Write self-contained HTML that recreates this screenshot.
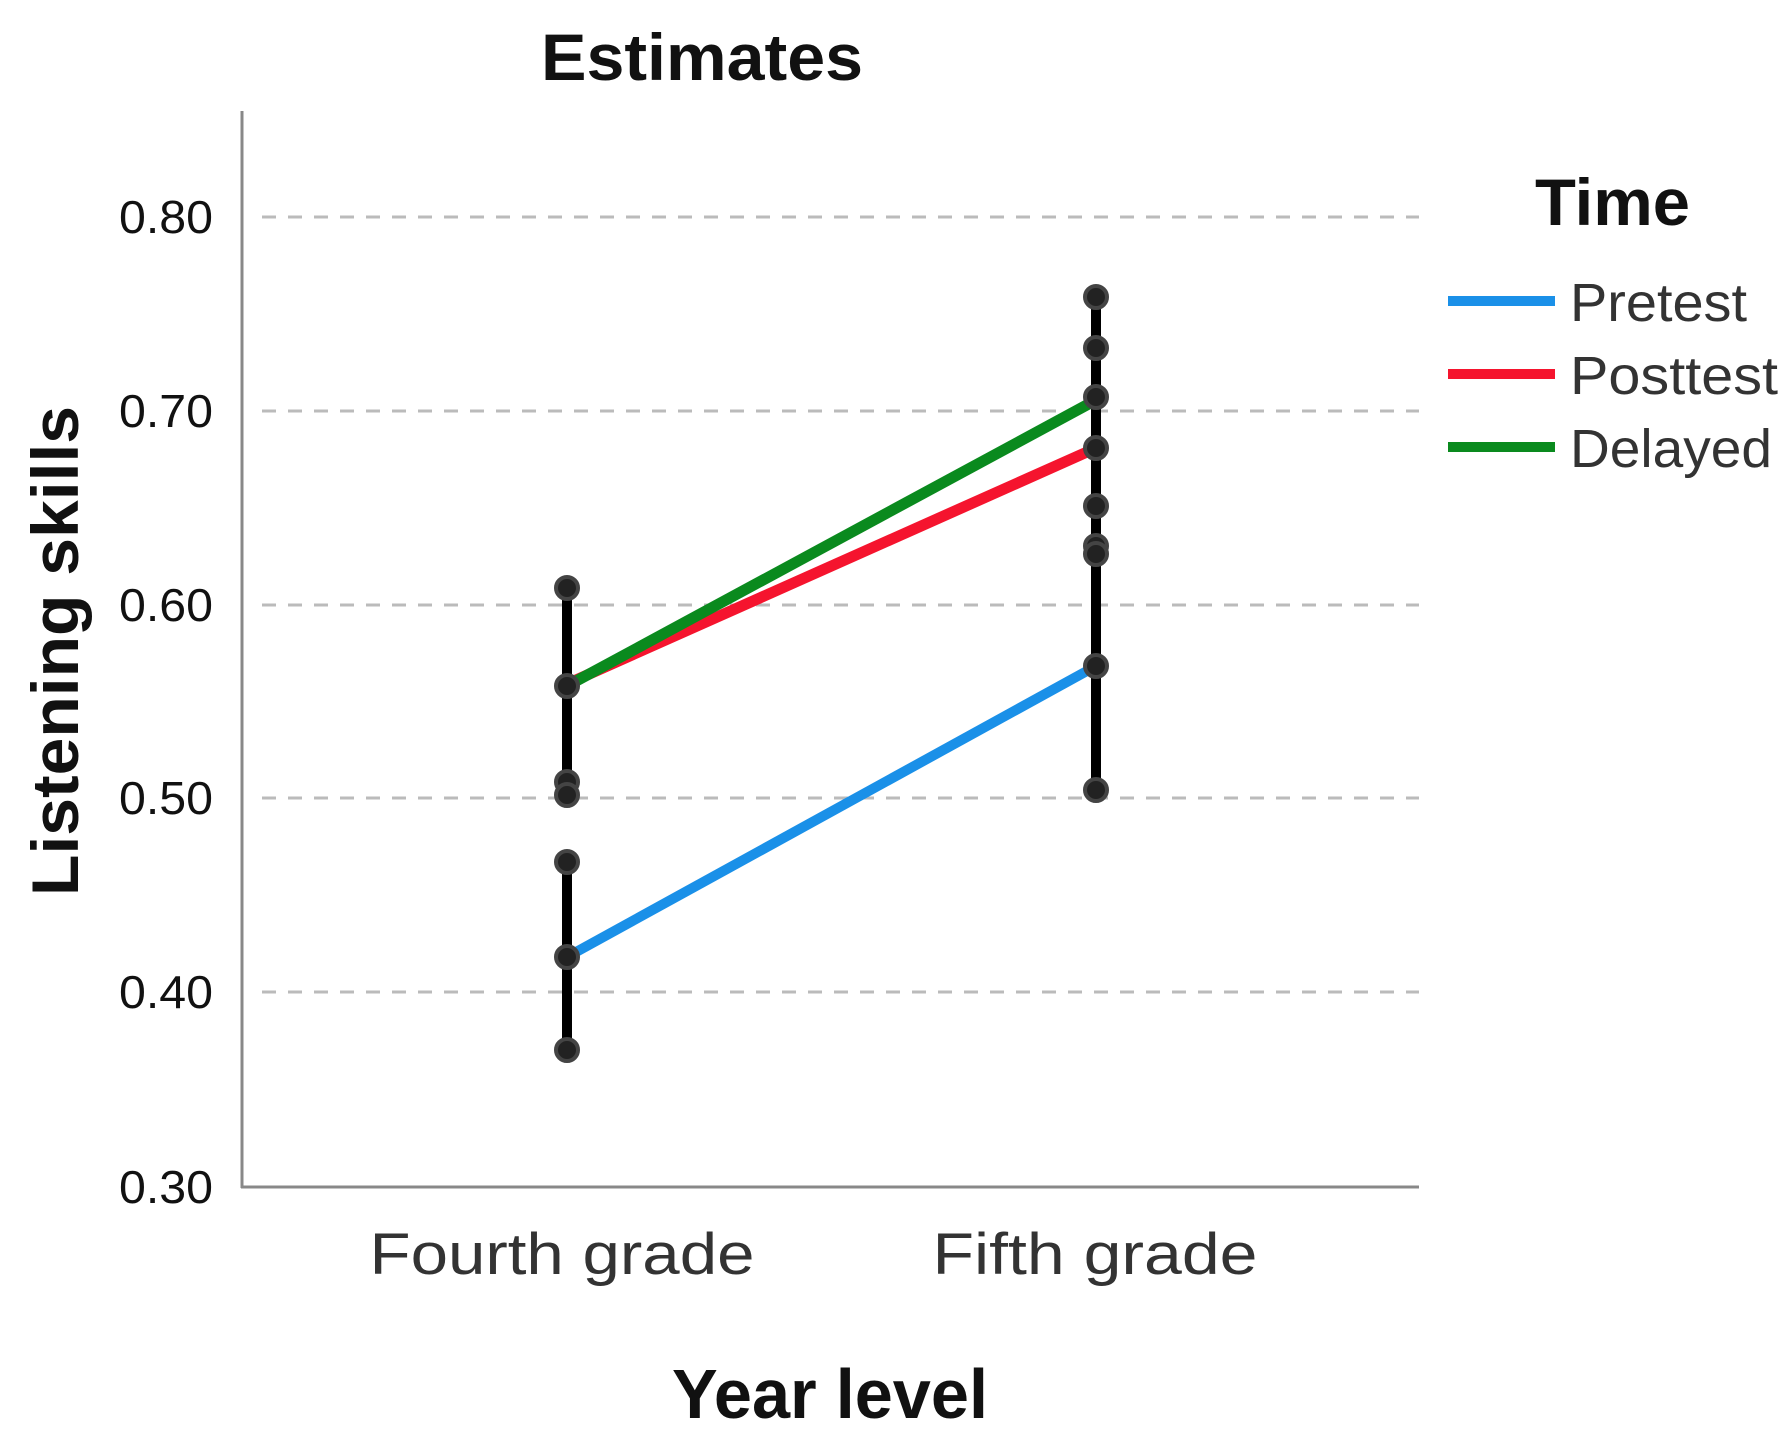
<!DOCTYPE html>
<html><head><meta charset="utf-8"><style>body{margin:0;background:#fff}svg{display:block}</style></head><body>
<svg width="1790" height="1441" viewBox="0 0 1790 1441" xmlns="http://www.w3.org/2000/svg" font-family="Liberation Sans, sans-serif">
<rect width="1790" height="1441" fill="#fff"/>
<g stroke="#bbb" stroke-width="3" stroke-dasharray="14,12">
<line x1="262" y1="217" x2="1419" y2="217"/>
<line x1="262" y1="411" x2="1419" y2="411"/>
<line x1="262" y1="605" x2="1419" y2="605"/>
<line x1="262" y1="798" x2="1419" y2="798"/>
<line x1="262" y1="992" x2="1419" y2="992"/>
</g>
<line x1="242" y1="111" x2="242" y2="1188" stroke="#888" stroke-width="3"/>
<line x1="241" y1="1187" x2="1419" y2="1187" stroke="#888" stroke-width="3"/>
<g font-size="46" fill="#111" text-anchor="end">
<text x="213" y="233" textLength="94" lengthAdjust="spacingAndGlyphs">0.80</text><text x="213" y="427" textLength="94" lengthAdjust="spacingAndGlyphs">0.70</text><text x="213" y="621" textLength="94" lengthAdjust="spacingAndGlyphs">0.60</text>
<text x="213" y="814" textLength="94" lengthAdjust="spacingAndGlyphs">0.50</text><text x="213" y="1008" textLength="94" lengthAdjust="spacingAndGlyphs">0.40</text><text x="213" y="1203" textLength="94" lengthAdjust="spacingAndGlyphs">0.30</text>
</g>
<text x="702" y="80" font-size="66" font-weight="bold" text-anchor="middle" fill="#111" textLength="322" lengthAdjust="spacingAndGlyphs">Estimates</text>
<text transform="translate(78,651) rotate(-90)" font-size="66" font-weight="bold" text-anchor="middle" fill="#111" textLength="490" lengthAdjust="spacingAndGlyphs">Listening skills</text>
<text x="830" y="1418" font-size="70" font-weight="bold" text-anchor="middle" fill="#111" textLength="316" lengthAdjust="spacingAndGlyphs">Year level</text>
<g font-size="58" fill="#333" text-anchor="middle">
<text x="562" y="1274" textLength="385" lengthAdjust="spacingAndGlyphs">Fourth grade</text>
<text x="1095" y="1274" textLength="325" lengthAdjust="spacingAndGlyphs">Fifth grade</text>
</g>
<line x1="567" y1="957" x2="1096" y2="666" stroke="#1a90e8" stroke-width="10"/>
<line x1="567" y1="684" x2="1096" y2="448" stroke="#f5142e" stroke-width="11"/>
<line x1="567" y1="686" x2="1096" y2="400" stroke="#0a8a1e" stroke-width="11"/>
<g stroke="#000" stroke-width="10">
<line x1="567" y1="862" x2="567" y2="1050"/>
<line x1="567" y1="588" x2="567" y2="795"/>
<line x1="1096" y1="297" x2="1096" y2="790"/>
</g>
<g fill="#222" stroke="#444" stroke-width="4">
<circle cx="567" cy="862" r="11"/><circle cx="567" cy="957" r="11"/><circle cx="567" cy="1050" r="11"/>
<circle cx="567" cy="588" r="11"/><circle cx="567" cy="686" r="11"/><circle cx="567" cy="782" r="11"/><circle cx="567" cy="795" r="11"/>
<circle cx="1096" cy="297" r="11"/><circle cx="1096" cy="348" r="11"/><circle cx="1096" cy="397" r="11"/><circle cx="1096" cy="448" r="11"/>
<circle cx="1096" cy="506" r="11"/><circle cx="1096" cy="546" r="11"/><circle cx="1096" cy="554" r="11"/><circle cx="1096" cy="666" r="11"/><circle cx="1096" cy="790" r="11"/>
</g>
<text x="1535" y="225" font-size="66" font-weight="bold" fill="#111" textLength="155" lengthAdjust="spacingAndGlyphs">Time</text>
<line x1="1448" y1="301" x2="1555" y2="301" stroke="#1a90e8" stroke-width="10"/>
<line x1="1448" y1="374" x2="1555" y2="374" stroke="#f5142e" stroke-width="10"/>
<line x1="1448" y1="447" x2="1555" y2="447" stroke="#0a8a1e" stroke-width="10"/>
<g font-size="54" fill="#333">
<text x="1570" y="321" textLength="177" lengthAdjust="spacingAndGlyphs">Pretest</text><text x="1570" y="394" textLength="208" lengthAdjust="spacingAndGlyphs">Posttest</text><text x="1570" y="467" textLength="202" lengthAdjust="spacingAndGlyphs">Delayed</text>
</g>
</svg>
</body></html>
